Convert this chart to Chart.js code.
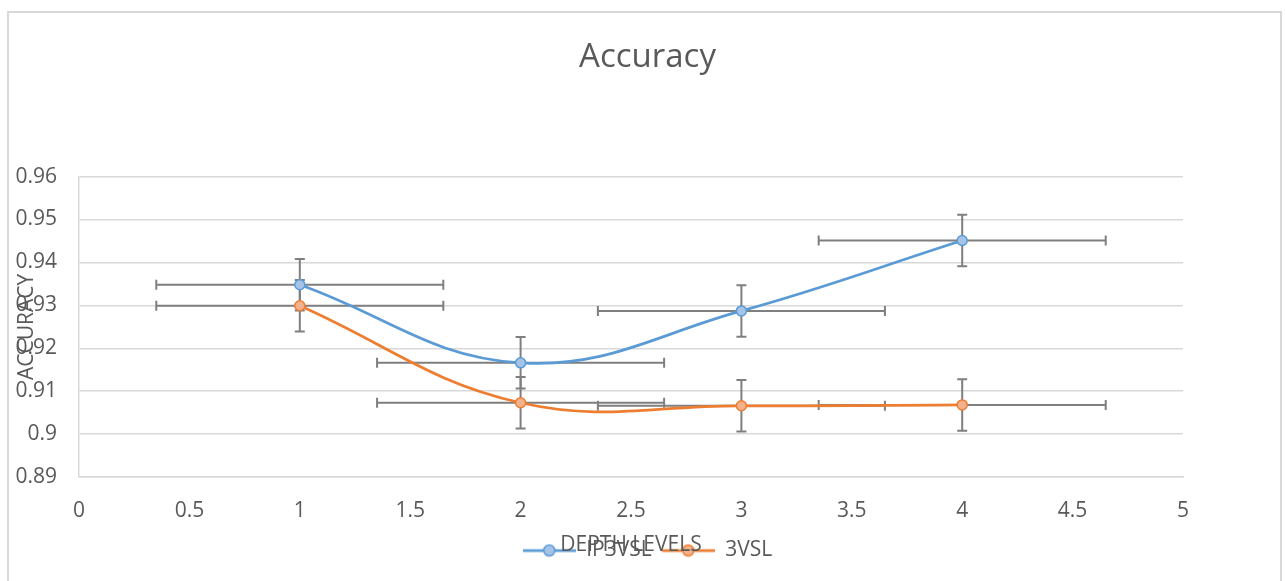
<!DOCTYPE html>
<html>
<head>
<meta charset="utf-8">
<script src="https://cdn.jsdelivr.net/npm/chart.js@4.4.0/dist/chart.umd.min.js"></script>
<style>
  html, body { margin: 0; padding: 0; background: #fff; overflow: hidden; }
  #frame { position: absolute; left: 7px; top: 11px; width: 1275px; height: 620px; border: 2px solid #d9d9d9; box-sizing: border-box; }
  #chart { position: absolute; left: 0; top: 0; }
</style>
</head>
<body>
<div id="frame"></div>
<canvas id="chart" width="1285" height="581"></canvas>
<script>
// accuracy vs depth levels, with x/y error bars

const depthLevels = [1, 2, 3, 4];
const ip3vslAcc = [0.9348, 0.9166, 0.9287, 0.9451];
const vsl3Acc = [0.9299, 0.9073, 0.9066, 0.9068];
const ip3vslYErr = [0.006, 0.006, 0.006, 0.006];
const vsl3YErr = [0.006, 0.006, 0.006, 0.006];
const depthXErr = [0.65, 0.65, 0.65, 0.65];
const seriesNames = ['IP3VSL', '3VSL'];
const chartTitle = 'Accuracy';
const xTitle = 'DEPTH LEVELS';
const yTitle = 'ACCURACY';

const textColor = '#595959';
const gridColor = '#d9d9d9';
const errColor = '#7f7f7f';
const FONT = '"Open Sans", sans-serif';

function toPoints(ys) {
  return depthLevels.map((x, i) => ({ x: x, y: ys[i] }));
}

// excel style: no trailing zeros
const fmt = (v) => String(+Number(v).toFixed(3));

function legendIcon(lineColor, fill) {
  const c = document.createElement('canvas');
  c.width = 53;
  c.height = 14;
  const g = c.getContext('2d');
  g.strokeStyle = lineColor;
  g.lineWidth = 2.75;
  g.beginPath();
  g.moveTo(0, 7);
  g.lineTo(53, 7);
  g.stroke();
  g.fillStyle = fill;
  g.lineWidth = 1.5;
  g.beginPath();
  g.arc(26.5, 7, 5.5, 0, Math.PI * 2);
  g.fill();
  g.stroke();
  return c;
}

const icons = [legendIcon('#5b9bd5', '#a6c3e8'), legendIcon('#ed7d31', '#f4b28c')];

const errorBars = {
  id: 'errorBars',
  beforeDatasetsDraw(chart) {
    const { ctx } = chart;
    const xs = chart.scales.x, ys = chart.scales.y;
    const yErrs = [ip3vslYErr, vsl3YErr];
    const cap = 5;
    ctx.save();
    ctx.strokeStyle = errColor;
    ctx.lineWidth = 2;
    chart.data.datasets.forEach((ds, i) => {
      ds.data.forEach((p, j) => {
        const px = xs.getPixelForValue(p.x);
        const py = ys.getPixelForValue(p.y);
        const x0 = xs.getPixelForValue(p.x - depthXErr[j]);
        const x1 = xs.getPixelForValue(p.x + depthXErr[j]);
        const y0 = ys.getPixelForValue(p.y + yErrs[i][j]);
        const y1 = ys.getPixelForValue(p.y - yErrs[i][j]);
        ctx.beginPath();
        ctx.moveTo(x0, py); ctx.lineTo(x1, py);
        ctx.moveTo(x0, py - cap); ctx.lineTo(x0, py + cap);
        ctx.moveTo(x1, py - cap); ctx.lineTo(x1, py + cap);
        ctx.moveTo(px, y0); ctx.lineTo(px, y1);
        ctx.moveTo(px - cap, y0); ctx.lineTo(px + cap, y0);
        ctx.moveTo(px - cap, y1); ctx.lineTo(px + cap, y1);
        ctx.stroke();
      });
    });
    ctx.restore();
  }
};

const axisTitles = {
  id: 'axisTitles',
  afterDraw(chart) {
    const { ctx, chartArea } = chart;
    ctx.save();
    ctx.fillStyle = textColor;
    ctx.font = '21px ' + FONT;
    ctx.textAlign = 'center';
    ctx.textBaseline = 'middle';
    ctx.fillText(xTitle, (chartArea.left + chartArea.right) / 2, 545);
    ctx.translate(27, (chartArea.top + chartArea.bottom) / 2);
    ctx.rotate(-Math.PI / 2);
    ctx.fillText(yTitle, 0, 0);
    ctx.restore();
  }
};

new Chart(document.getElementById('chart'), {
  type: 'scatter',
  data: {
    datasets: [
      {
        label: seriesNames[0],
        data: toPoints(ip3vslAcc),
        showLine: true,
        tension: 0.4,
        borderColor: '#5b9bd5',
        borderWidth: 2.75,
        pointRadius: 5,
        pointBorderWidth: 1.5,
        pointBackgroundColor: '#a6c3e8',
        pointBorderColor: '#5b9bd5',
      },
      {
        label: seriesNames[1],
        data: toPoints(vsl3Acc),
        showLine: true,
        tension: 0.4,
        borderColor: '#ed7d31',
        borderWidth: 2.75,
        pointRadius: 5,
        pointBorderWidth: 1.5,
        pointBackgroundColor: '#f4b28c',
        pointBorderColor: '#ed7d31',
      }
    ]
  },
  options: {
    responsive: false,
    animation: false,
    layout: { padding: { left: 10, right: 0, top: 0, bottom: 10 } },
    plugins: {
      title: {
        display: true,
        text: chartTitle,
        color: textColor,
        font: { family: FONT, size: 33, weight: 'normal' },
        padding: { top: 38, bottom: 99 }
      },
      legend: {
        position: 'bottom',
        labels: {
          usePointStyle: true,
          pointStyleWidth: 53,
          color: textColor,
          font: { family: FONT, size: 21 },
          padding: 10,
          generateLabels(chart) {
            const items = Chart.defaults.plugins.legend.labels.generateLabels(chart);
            items.forEach((it, i) => { it.pointStyle = icons[i]; });
            return items;
          }
        }
      },
      tooltip: { enabled: false }
    },
    scales: {
      x: {
        type: 'linear',
        min: 0, max: 5,
        ticks: { stepSize: 0.5, color: textColor, font: { family: FONT, size: 21 }, padding: 21, callback: fmt },
        grid: { display: false, drawTicks: false },
        border: { display: true, color: gridColor, width: 1.5 },
        afterFit(s) { s.height = 53; }
      },
      y: {
        min: 0.89, max: 0.96,
        ticks: { stepSize: 0.01, color: textColor, font: { family: FONT, size: 21 }, padding: 22, callback: fmt },
        grid: { color: gridColor, lineWidth: 1.5, drawTicks: false },
        border: { display: true, color: gridColor, width: 1.5 },
        afterFit(s) { s.width = 69; }
      },
      y2: {
        position: 'right',
        ticks: { display: false },
        grid: { display: false, drawTicks: false },
        border: { display: false },
        afterFit(s) { s.width = 102; }
      }
    }
  },
  plugins: [errorBars, axisTitles]
});
</script>
</body>
</html>
